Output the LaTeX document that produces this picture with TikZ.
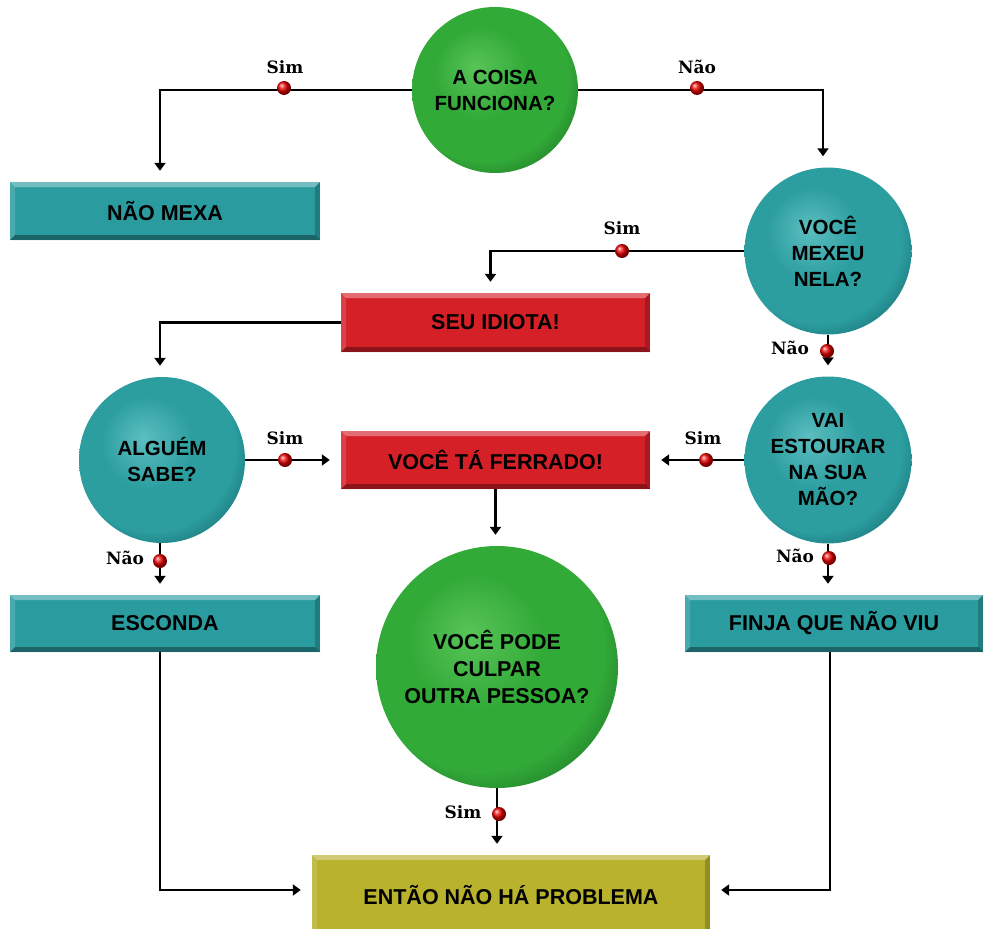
\documentclass[tikz,border=0pt]{standalone}
\usepackage{fontspec}
\setmainfont{Liberation Sans}
\newfontfamily\lblfont{DejaVu Serif}
\usetikzlibrary{arrows.meta,calc}
\definecolor{gL}{RGB}{88,196,88}
\definecolor{gM}{RGB}{50,170,56}
\definecolor{gD}{RGB}{30,118,38}
\definecolor{tL}{RGB}{92,190,192}
\definecolor{tM}{RGB}{44,158,160}
\definecolor{tD}{RGB}{22,108,112}
\definecolor{tealbox}{RGB}{42,156,160}
\definecolor{redbox}{RGB}{214,32,40}
\definecolor{olivebox}{RGB}{184,178,44}
\pgfdeclareradialshading{gshade}{\pgfpoint{-6bp}{7bp}}{color(0bp)=(gL); color(14bp)=(gM); color(25bp)=(gM); color(33bp)=(gD); color(50bp)=(gD)}
\pgfdeclareradialshading{tshade}{\pgfpoint{-6bp}{7bp}}{color(0bp)=(tL); color(14bp)=(tM); color(25bp)=(tM); color(33bp)=(tD); color(50bp)=(tD)}
\tikzset{
  q/.style={circle, inner sep=0pt, align=center, text=black,
    font=\bfseries\fontsize{20.5}{26}\selectfont},
  gq/.style={q, shade, shading=gshade},
  tq/.style={q, shade, shading=tshade},
  bevel/.style={path picture={
    \coordinate (pA) at (path picture bounding box.north west);
    \coordinate (pB) at (path picture bounding box.north east);
    \coordinate (pC) at (path picture bounding box.south east);
    \coordinate (pD) at (path picture bounding box.south west);
    \fill[white,opacity=.35] (pA) -- (pB) -- ($(pB)+(-5,5)$) -- ($(pA)+(5,5)$) -- cycle;
    \fill[white,opacity=.15] (pA) -- ($(pA)+(5,5)$) -- ($(pD)+(5,-5)$) -- (pD) -- cycle;
    \fill[black,opacity=.35] (pD) -- ($(pD)+(5,-5)$) -- ($(pC)+(-5,-5)$) -- (pC) -- cycle;
    \fill[black,opacity=.2] (pC) -- ($(pC)+(-5,-5)$) -- ($(pB)+(-5,5)$) -- (pB) -- cycle;
  }},
  bx/.style={rectangle, inner sep=0pt, text=black, bevel,
    font=\bfseries\fontsize{21.5}{24}\selectfont},
  tbx/.style={bx, fill=tealbox},
  rbx/.style={bx, fill=redbox},
  obx/.style={bx, fill=olivebox},
  conn/.style={line width=2.6pt, black},
  arr/.style={conn, -{Triangle[length=8pt,width=11pt]}, shorten >=11pt},
  rdot/.style={circle, inner sep=0pt, minimum size=14pt, ball color=red!92!black},
  lbl/.style={inner sep=0pt, font=\lblfont\bfseries\fontsize{17}{17}\selectfont},
}
\begin{document}
\begin{tikzpicture}[x=1pt,y=-1pt]
\useasboundingbox (0,0) rectangle (984,928);

% decision circles
\node[gq, minimum size=166pt] (q1) at (495,90) {A COISA\\FUNCIONA?};
\node[tq, minimum size=167pt] (q2) at (828,251) {VOCÊ\\MEXEU\\NELA?};
\node[tq, minimum size=166pt] (q3) at (162,460) {ALGUÉM\\SABE?};
\node[tq, minimum size=167pt] (q4) at (828,460) {VAI\\ESTOURAR\\NA SUA\\MÃO?};
\node[gq, minimum size=242pt, font=\bfseries\fontsize{21.5}{27}\selectfont] (q5) at (497,667) {VOCÊ PODE\\CULPAR\\OUTRA PESSOA?};

% boxes
\node[tbx, minimum width=310pt, minimum height=58pt] (nomexa) at (165,211) {NÃO MEXA};
\node[rbx, minimum width=309pt, minimum height=59pt] (idiota) at (495.5,322.5) {SEU IDIOTA!};
\node[rbx, minimum width=309pt, minimum height=58pt] (ferrado) at (495.5,460) {VOCÊ TÁ FERRADO!};
\node[tbx, minimum width=310pt, minimum height=57pt] (esconda) at (165,623.5) {ESCONDA};
\node[tbx, minimum width=298pt, minimum height=57pt] (finja) at (834,623.5) {FINJA QUE NÃO VIU};
\node[obx, minimum width=398pt, minimum height=80pt] (entao) at (511,895) {ENTÃO NÃO HÁ PROBLEMA};

% connectors
\draw[arr] (q1.west) -| ($(nomexa.north)+(-5,0)$);
\draw[arr] (q1.east) -| ($(q2.north)+(-5,0)$);
\draw[arr] (q2.west) -| ($(idiota.north)+(-5,0)$);
\draw[arr] (idiota.west) -| ($(q3.north)+(-2,0)$);
\draw[arr] (q3.east) -- (ferrado.west);
\draw[arr] (q4.west) -- (ferrado.east);
\draw[arr] (q2.south) -- (q4.north);
\draw[arr] (q4.south) -- (q4.south |- finja.north);
\draw[arr] ($(q3.south)+(-2,0)$) -- ($(q3.south |- esconda.north)+(-2,0)$);
\draw[arr] (ferrado.south) -- (ferrado.south |- q5.north);
\draw[arr] (q5.south) -- (q5.south |- entao.north);
\draw[arr] ($(esconda.south)+(-5,0)$) |- ($(entao.west)+(0,-5)$);
\draw[arr] ($(finja.south)+(-4,0)$) |- ($(entao.east)+(0,-5)$);

% yes / no markers
\node[rdot] (d1) at (284,88) {};
\node[lbl] (l1) at (285,67) {Sim};
\node[rdot] (d2) at (697,88) {};
\node[lbl] (l2) at (697,67) {Não};
\node[rdot] (d3) at (622,251) {};
\node[lbl] (l3) at (622,228) {Sim};
\node[rdot] (d4) at (827,351) {};
\node[lbl] (l4) at (790,348) {Não};
\node[rdot] (d5) at (285,460) {};
\node[lbl] (l5) at (285,438) {Sim};
\node[rdot] (d6) at (706,460) {};
\node[lbl] (l6) at (703,438) {Sim};
\node[rdot] (d7) at (160,561) {};
\node[lbl] (l7) at (125,558) {Não};
\node[rdot] (d8) at (829,558) {};
\node[lbl] (l8) at (795,556) {Não};
\node[rdot] (d9) at (499,814) {};
\node[lbl] (l9) at (463,812) {Sim};
\end{tikzpicture}
\end{document}
